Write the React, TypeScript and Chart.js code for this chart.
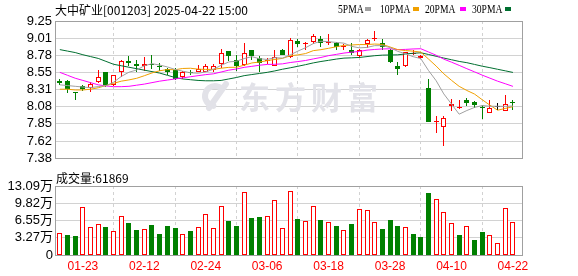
import React, { useEffect, useRef } from 'react';
import { Chart, registerables, BarElement } from 'chart.js';

Chart.register(...registerables);

// ---------------- data ----------------
const stockTitle = '大中矿业[001203] 2025-04-22 15:00';

const dates = [
  '01-20', '01-21', '01-22', '01-23', '01-24', '01-27',
  '02-05', '02-06', '02-07', '02-10', '02-11', '02-12', '02-13', '02-14', '02-17', '02-18', '02-19', '02-20', '02-21', '02-24', '02-25', '02-26', '02-27', '02-28',
  '03-03', '03-04', '03-05', '03-06', '03-07', '03-10', '03-11', '03-12', '03-13', '03-14', '03-17', '03-18', '03-19', '03-20', '03-21', '03-24', '03-25', '03-26', '03-27', '03-28', '03-31',
  '04-01', '04-02', '04-03', '04-07', '04-08', '04-09', '04-10', '04-11', '04-14', '04-15', '04-16', '04-17', '04-18', '04-21', '04-22',
];

const opens = [
  8.43, 8.43, 8.28, 8.36, 8.33, 8.42, 8.55, 8.38, 8.55, 8.71,
  8.67, 8.63, 8.67, 8.63, 8.59, 8.58, 8.49, 8.56, 8.56, 8.56,
  8.58, 8.66, 8.84, 8.72, 8.65, 8.86, 8.75, 8.70, 8.64, 8.86,
  8.76, 8.98, 8.94, 8.96, 9.00, 8.95, 8.95, 8.89, 8.86, 8.77,
  8.93, 9.00, 8.95, 8.86, 8.64, 8.63, 8.80, 8.74, 8.33, 7.88,
  7.81, 8.09, 8.07, 8.17, 8.15, 8.08, 8.00, 8.08, 8.03, 8.14,
];
const highs = [
  8.46, 8.45, 8.28, 8.38, 8.42, 8.58, 8.55, 8.51, 8.72, 8.77,
  8.72, 8.76, 8.79, 8.68, 8.61, 8.61, 8.57, 8.58, 8.65, 8.67,
  8.67, 8.87, 8.84, 8.79, 8.95, 8.86, 8.77, 8.75, 8.85, 8.87,
  9.02, 9.00, 8.96, 9.07, 9.04, 9.07, 8.97, 8.93, 8.95, 8.87,
  9.00, 9.11, 9.01, 8.87, 8.69, 8.83, 8.85, 8.78, 8.46, 7.95,
  7.95, 8.19, 8.18, 8.20, 8.16, 8.10, 8.17, 8.13, 8.24, 8.18,
];
const lows = [
  8.38, 8.27, 8.18, 8.29, 8.28, 8.41, 8.35, 8.36, 8.49, 8.63,
  8.56, 8.57, 8.59, 8.57, 8.52, 8.45, 8.46, 8.52, 8.55, 8.55,
  8.56, 8.61, 8.71, 8.57, 8.64, 8.72, 8.55, 8.66, 8.63, 8.78,
  8.75, 8.90, 8.85, 8.93, 8.90, 8.92, 8.86, 8.86, 8.79, 8.75,
  8.88, 8.98, 8.86, 8.68, 8.52, 8.62, 8.78, 8.73, 7.88, 7.72,
  7.54, 8.03, 8.05, 8.09, 8.06, 7.91, 7.99, 8.04, 8.02, 8.04,
];
const closes = [
  8.41, 8.32, 8.27, 8.32, 8.39, 8.48, 8.38, 8.51, 8.71, 8.68,
  8.63, 8.67, 8.65, 8.62, 8.55, 8.46, 8.55, 8.54, 8.59, 8.64,
  8.64, 8.82, 8.77, 8.64, 8.82, 8.77, 8.68, 8.72, 8.76, 8.79,
  8.99, 8.94, 8.95, 9.04, 8.95, 8.96, 8.89, 8.90, 8.82, 8.85,
  8.99, 9.01, 8.90, 8.69, 8.59, 8.83, 8.81, 8.77, 7.88, 7.89,
  7.93, 8.12, 8.08, 8.13, 8.10, 8.06, 8.07, 8.08, 8.12, 8.13,
];
const prevClose = 8.39; // close of the session before the first bar

// volume in 手 (lots)
const volumes = [
  41200, 37900, 36000, 90500, 52500, 58200, 53100, 44900, 73400, 60700,
  47400, 49900, 56900, 39800, 55000, 51200, 39300, 45500, 52500, 77800,
  50600, 93000, 64500, 55000, 118900, 69600, 72100, 74000, 104300, 50600,
  121400, 68300, 64500, 93000, 66400, 62000, 55000, 47400, 58800, 86700,
  85400, 62000, 49300, 66400, 55000, 52500, 39800, 34100, 118200, 105600,
  81600, 60700, 37900, 55000, 28500, 43600, 37900, 22800, 89200, 61869,
];

const ma5 = [
  8.38, 8.37, 8.36, 8.35, 8.342, 8.356, 8.368, 8.416, 8.494, 8.552,
  8.582, 8.640, 8.668, 8.650, 8.624, 8.590, 8.566, 8.544, 8.538, 8.556,
  8.592, 8.646, 8.692, 8.702, 8.738, 8.764, 8.736, 8.726, 8.750, 8.744,
  8.788, 8.840, 8.886, 8.942, 8.974, 8.968, 8.958, 8.948, 8.904, 8.884,
  8.890, 8.914, 8.914, 8.888, 8.836, 8.804, 8.764, 8.738, 8.576, 8.436,
  8.256, 8.118, 7.980, 8.030, 8.072, 8.098, 8.088, 8.088, 8.086, 8.092,
];
const ma10 = [
  8.32, 8.32, 8.31, 8.31, 8.32, 8.34, 8.37, 8.40, 8.43, 8.447,
  8.469, 8.504, 8.542, 8.572, 8.588, 8.586, 8.603, 8.606, 8.594, 8.590,
  8.591, 8.606, 8.618, 8.620, 8.647, 8.678, 8.691, 8.709, 8.726, 8.741,
  8.776, 8.788, 8.806, 8.846, 8.859, 8.878, 8.899, 8.917, 8.923, 8.929,
  8.929, 8.936, 8.931, 8.896, 8.860, 8.847, 8.839, 8.826, 8.732, 8.636,
  8.530, 8.441, 8.359, 8.303, 8.254, 8.177, 8.103, 8.034, 8.058, 8.082,
];
const ma20 = [
  8.55, 8.51, 8.47, 8.44, 8.41, 8.38, 8.365, 8.355, 8.355, 8.36,
  8.375, 8.39, 8.41, 8.43, 8.445, 8.46, 8.475, 8.49, 8.505, 8.519,
  8.530, 8.555, 8.580, 8.596, 8.618, 8.632, 8.647, 8.658, 8.660, 8.666,
  8.684, 8.697, 8.712, 8.733, 8.753, 8.778, 8.795, 8.813, 8.825, 8.835,
  8.853, 8.862, 8.869, 8.871, 8.860, 8.863, 8.869, 8.872, 8.828, 8.783,
  8.730, 8.689, 8.645, 8.600, 8.557, 8.512, 8.471, 8.430, 8.395, 8.359,
];
const ma30 = [
  8.86, 8.84, 8.82, 8.79, 8.765, 8.74, 8.70, 8.66, 8.64, 8.62,
  8.60, 8.58, 8.56, 8.54, 8.51, 8.48, 8.46, 8.45, 8.44, 8.435,
  8.435, 8.44, 8.46, 8.48, 8.505, 8.52, 8.535, 8.55, 8.57, 8.593,
  8.612, 8.633, 8.655, 8.679, 8.698, 8.714, 8.731, 8.744, 8.748, 8.753,
  8.765, 8.777, 8.785, 8.787, 8.789, 8.801, 8.810, 8.817, 8.794, 8.769,
  8.745, 8.722, 8.699, 8.682, 8.658, 8.634, 8.614, 8.592, 8.571, 8.549,
];

const priceTickLabels = ['9.25', '9.01', '8.78', '8.55', '8.31', '8.08', '7.85', '7.62', '7.38'];
const priceMax = 9.25;
const priceMin = 7.38;
const volTickLabels = ['0', '3.27万', '6.55万', '9.82万', '13.09万'];
const volMax = 130900;
const xTickLabels = ['01-23', '02-12', '02-24', '03-06', '03-18', '03-28', '04-10', '04-22'];

const legendLabels = ['5PMA', '10PMA', '20PMA', '30PMA'];

// ---------------- styles ----------------
const RED = '#ff0000';
const GREEN = '#008000';
const DOJI = '#000000';
const MA_COLORS = ['#a0a0a0', '#f0a000', '#ff00ff', '#006f30'];
const GRID = '#d2d2d2';
const FRAME = '#a0a0a0';
const X_MIN = -0.5;
const X_MAX = 60.18;
const SANS = '"Liberation Sans", Arial, "Noto Sans CJK SC", sans-serif';
const LEGEND_POS = [
  { text: 338, box: 365 },
  { text: 380, box: 413 },
  { text: 425, box: 460 },
  { text: 472, box: 505 },
];

// snap bar rectangles to whole device pixels so that 1px outlines and wicks stay crisp
const proto: any = (BarElement as any).prototype;
if (!proto.__crisp) {
  const origDraw = proto.draw;
  proto.draw = function (ctx: CanvasRenderingContext2D) {
    const { x, y, base } = this;
    this.x = Math.floor(x) + 0.5;
    this.y = Math.round(y);
    this.base = Math.round(base);
    origDraw.call(this, ctx);
    this.x = x;
    this.y = y;
    this.base = base;
  };
  proto.__crisp = true;
}

function candleColor(i: number) {
  if (closes[i] > opens[i]) return RED;
  if (closes[i] < opens[i]) return GREEN;
  return DOJI;
}
function volumeUp(i: number) {
  const prev = i === 0 ? prevClose : closes[i - 1];
  return closes[i] >= prev;
}

const tickIndexes = xTickLabels.map((l) => dates.indexOf(l));

const framePlugin = {
  id: 'frame',
  beforeDatasetsDraw(chart: any) {
    const { ctx, chartArea: a } = chart;
    const l = Math.round(a.left);
    const t = Math.round(a.top);
    const r = Math.round(a.right);
    const b = Math.round(a.bottom);
    ctx.save();
    ctx.strokeStyle = FRAME;
    ctx.lineWidth = 1;
    ctx.strokeRect(l - 0.5, t + 0.5, r - l + 1, b - t);
    ctx.restore();
  },
};

const watermarkPlugin = {
  id: 'watermark',
  beforeDatasetsDraw(chart: any) {
    const { ctx } = chart;
    ctx.save();
    ctx.fillStyle = '#e2e2e8';
    ctx.strokeStyle = '#e2e2e8';
    // logo
    ctx.lineWidth = 6;
    ctx.lineCap = 'round';
    ctx.beginPath();
    ctx.arc(215, 96, 10, Math.PI * 0.55, Math.PI * 1.75);
    ctx.stroke();
    ctx.beginPath();
    ctx.moveTo(226, 84);
    ctx.lineTo(209, 108);
    ctx.stroke();
    // text
    ctx.font = 'bold 31px "Noto Sans CJK SC"';
    ctx.textBaseline = 'middle';
    (ctx as any).letterSpacing = '5px';
    ctx.fillText('东方财富', 239, 97);
    ctx.restore();
  },
};

export default function App() {
  const priceRef = useRef<HTMLCanvasElement>(null);
  const volRef = useRef<HTMLCanvasElement>(null);

  useEffect(() => {
    const idx = dates.map((_, i) => i);
    const colors = idx.map(candleColor);

    const xCommon = {
      type: 'linear' as const,
      min: X_MIN,
      max: X_MAX,
      offset: false,
      afterBuildTicks: (s: any) => {
        s.ticks = tickIndexes.map((v) => ({ value: v }));
      },
      grid: { color: GRID, drawTicks: false, lineWidth: 1 },
      border: { display: false, dash: [3, 3] },
    };

    const priceChart = new Chart(priceRef.current as HTMLCanvasElement, {
      type: 'bar',
      data: {
        datasets: [
          ...[ma5, ma10, ma20, ma30].map((arr, k) => ({
            type: 'line' as const,
            label: legendLabels[k],
            data: arr.map((v, i) => ({ x: i, y: v })),
            borderColor: MA_COLORS[k],
            borderWidth: 1,
            pointRadius: 0,
            tension: 0,
            fill: false,
            order: 0,
          })),
          {
            type: 'bar' as const,
            label: 'body',
            data: idx.map((i) => ({ x: i, y: [opens[i], closes[i]] })),
            backgroundColor: colors.map((c) => (c === RED ? '#ffffff' : c)),
            borderColor: colors,
            borderWidth: 1,
            borderSkipped: false,
            minBarLength: 1,
            inflateAmount: 0,
            grouped: false,
            maxBarThickness: 5,
            order: 1,
          } as any,
          {
            type: 'bar' as const,
            label: 'wick',
            data: idx.map((i) => ({ x: i, y: [lows[i], highs[i]] })),
            backgroundColor: colors,
            borderWidth: 0,
            inflateAmount: 0,
            grouped: false,
            maxBarThickness: 1,
            order: 2,
          } as any,
        ],
      },
      options: {
        animation: false,
        responsive: false,
        devicePixelRatio: 1,
        events: [],
        layout: { padding: { left: 0, top: 21, right: 56, bottom: 5 } },
        plugins: { legend: { display: false }, tooltip: { enabled: false } },
        scales: {
          x: {
            ...xCommon,
            ticks: { display: false },
            afterFit: (s: any) => {
              s.height = 0;
            },
          },
          y: {
            min: priceMin,
            max: priceMax,
            afterBuildTicks: (s: any) => {
              s.ticks = priceTickLabels.map((_, k) => ({
                value: priceMax - (k * (priceMax - priceMin)) / (priceTickLabels.length - 1),
              }));
            },
            afterFit: (s: any) => {
              s.width = 56;
            },
            ticks: {
              padding: 4,
              color: '#000',
              autoSkip: false,
              font: { family: SANS, size: 13 },
              callback: (_v: any, i: number) => priceTickLabels[i],
            },
            grid: { color: GRID, drawTicks: false },
            border: { display: false },
          },
        },
      } as any,
      plugins: [watermarkPlugin, framePlugin],
    });

    const volChart = new Chart(volRef.current as HTMLCanvasElement, {
      type: 'bar',
      data: {
        datasets: [
          {
            label: 'volume',
            data: idx.map((i) => ({ x: i, y: volumes[i] })),
            backgroundColor: idx.map((i) => (volumeUp(i) ? '#ffffff' : GREEN)),
            borderColor: idx.map((i) => (volumeUp(i) ? RED : GREEN)),
            borderWidth: 1,
            borderSkipped: false,
            inflateAmount: 0,
            grouped: false,
            maxBarThickness: 5,
          } as any,
        ],
      },
      options: {
        animation: false,
        responsive: false,
        devicePixelRatio: 1,
        events: [],
        layout: { padding: { left: 0, top: 16, right: 56, bottom: 0 } },
        plugins: { legend: { display: false }, tooltip: { enabled: false } },
        scales: {
          x: {
            ...xCommon,
            afterFit: (s: any) => {
              s.height = 21;
            },
            ticks: {
              color: RED,
              padding: 4,
              maxRotation: 0,
              autoSkip: false,
              font: { family: SANS, size: 12 },
              callback: (v: any) => dates[v as number],
            },
          },
          y: {
            min: 0,
            max: volMax,
            afterBuildTicks: (s: any) => {
              s.ticks = volTickLabels.map((_, k) => ({
                value: (k * volMax) / (volTickLabels.length - 1),
              }));
            },
            afterFit: (s: any) => {
              s.width = 56;
            },
            ticks: {
              padding: 3,
              color: '#000',
              autoSkip: false,
              font: { family: SANS, size: 13 },
              callback: (_v: any, i: number) => volTickLabels[i],
            },
            grid: { color: GRID, drawTicks: false },
            border: { display: false },
          },
        },
      } as any,
      plugins: [framePlugin],
    });

    return () => {
      priceChart.destroy();
      volChart.destroy();
    };
  }, []);

  return (
    <div
      style={{
        position: 'absolute',
        left: 0,
        top: 0,
        width: 578,
        height: 276,
        background: '#fff',
        overflow: 'hidden',
      }}
    >
      <canvas
        ref={priceRef}
        width={578}
        height={170}
        style={{ position: 'absolute', left: 0, top: 0, width: 578, height: 170 }}
      />
      <canvas
        ref={volRef}
        width={578}
        height={106}
        style={{ position: 'absolute', left: 0, top: 170, width: 578, height: 106 }}
      />
      <div
        style={{
          position: 'absolute',
          left: 55,
          top: 3,
          fontFamily: '"Noto Sans CJK SC", sans-serif',
          fontSize: 12,
          lineHeight: '14px',
          color: '#000',
          whiteSpace: 'nowrap',
        }}
      >
        {stockTitle}
      </div>
      {legendLabels.map((l, k) => (
        <React.Fragment key={l}>
          <div
            style={{
              position: 'absolute',
              left: LEGEND_POS[k].text,
              top: 2,
              fontFamily: '"Liberation Serif", serif',
              fontSize: 12,
              lineHeight: '14px',
              color: '#000',
              whiteSpace: 'nowrap',
              transform: 'scaleX(0.8)',
              transformOrigin: 'left center',
            }}
          >
            {l}
          </div>
          <div
            style={{
              position: 'absolute',
              left: LEGEND_POS[k].box,
              top: 7,
              width: 6,
              height: 4,
              background: MA_COLORS[k],
            }}
          />
        </React.Fragment>
      ))}
      <div
        style={{
          position: 'absolute',
          left: 56,
          top: 170,
          fontFamily: '"Noto Sans CJK SC", sans-serif',
          fontSize: 12,
          lineHeight: '15px',
          color: '#000',
          whiteSpace: 'nowrap',
        }}
      >
        {`成交量:${volumes[volumes.length - 1]}`}
      </div>
    </div>
  );
}
